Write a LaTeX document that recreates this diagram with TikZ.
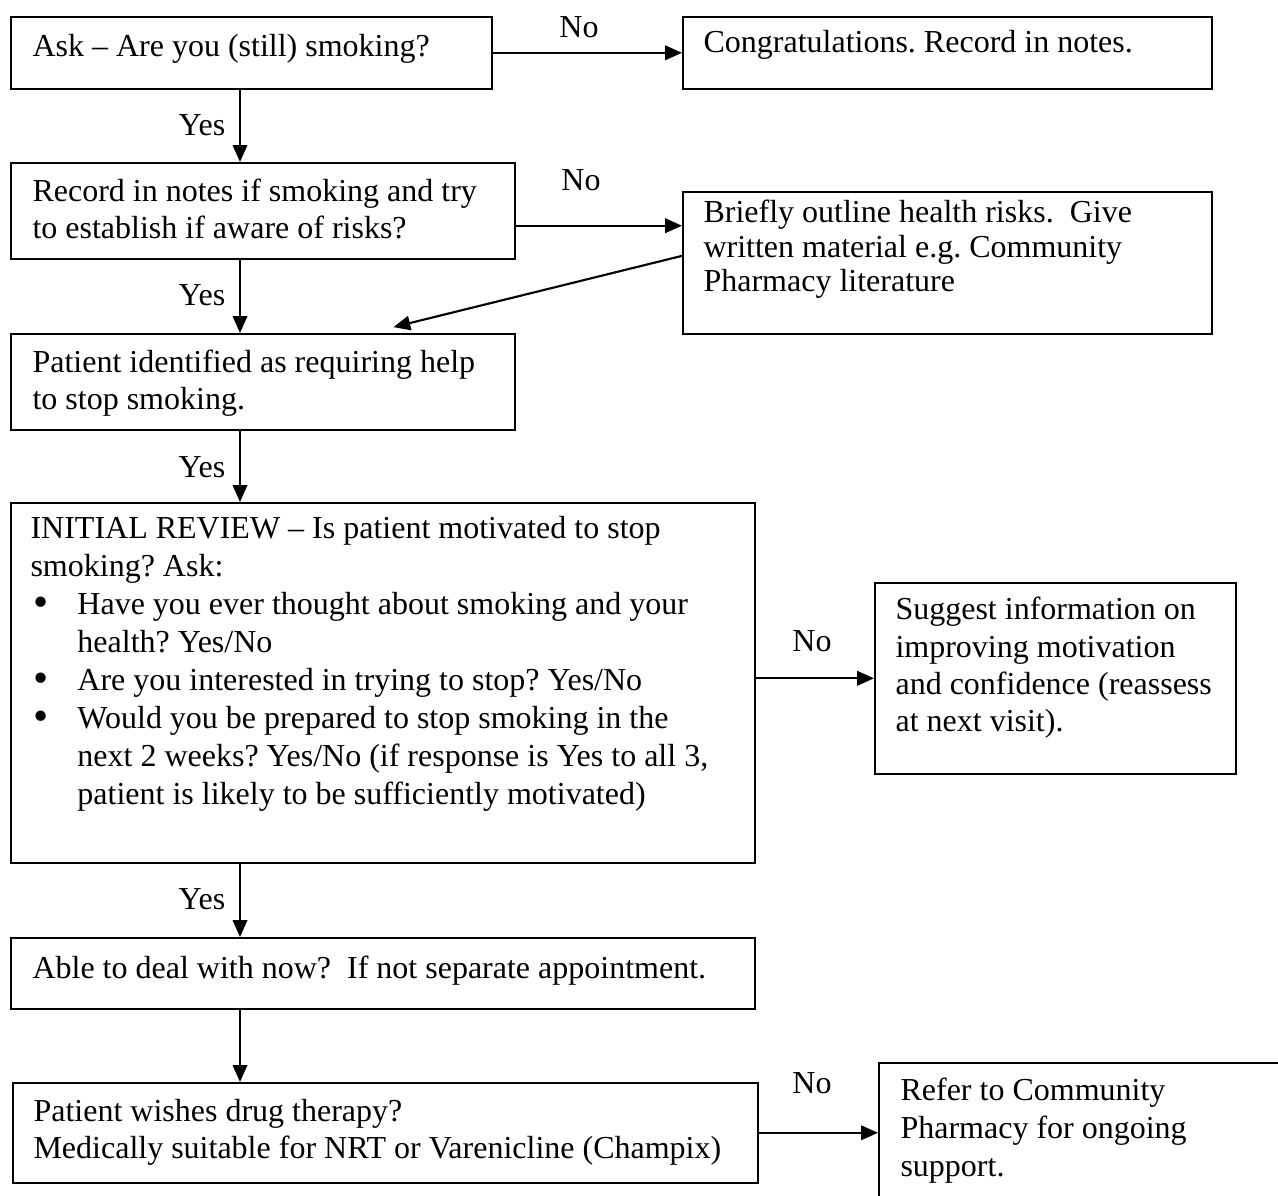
\documentclass[tikz,border=0pt]{standalone}
\usepackage{fontspec}
\setmainfont{Liberation Serif}
\usepackage{tikz}
\usetikzlibrary{arrows.meta}
\frenchspacing
\newcommand{\unitpx}{0.375pt}
\newcommand{\bitem}{\hspace*{1.2pt}\makebox[16.4pt][l]{\raisebox{-0.4pt}{\scalebox{1.35}{\textbullet}}}}
\newcommand{\bcont}{\hspace*{17.6pt}}
\tikzstyle{box}=[draw, rectangle, line width=0.6pt, inner sep=0pt, anchor=north west]
\tikzstyle{note}=[draw=none, inner sep=0pt, align=left, anchor=base west, font=\fontsize{12}{13.875}\selectfont]
\tikzstyle{answer}=[draw=none, inner sep=0pt, anchor=base, font=\fontsize{12}{13.875}\selectfont]
\tikzstyle{edge}=[draw, line width=0.8pt, -{Triangle[length=6.3pt,width=5.4pt]}]

\begin{document}
\begin{tikzpicture}[x=\unitpx, y=-\unitpx]
	\useasboundingbox (0,0) rectangle (1278,1196);
	\clip (0,0) rectangle (1278,1196);
	% First we draw the boxes
	\foreach \pos/\w/\h/\name in {
		{(10,16)/481/72/ask},
		{(682,16)/529/72/congrats},
		{(10,162)/504/96/record},
		{(682,191)/529/142/briefly},
		{(10,333)/504/96/patient},
		{(10,502)/744/360/review},
		{(874,582)/361/191/suggest},
		{(10,937)/744/71/able},
		{(12,1082)/745/100/wishes},
		{(878,1062)/450/200/refer}}
	\node[box, minimum width=\w*\unitpx, minimum height=\h*\unitpx] (\name) at \pos {};
	
	% Then the texts inside the boxes (placed at their last baseline)
	\node[note] (ask text) at (32,57) {Ask – Are you (still) smoking?};
	\node[note] (congrats text) at (703,53) {Congratulations. Record in notes.};
	\node[note] (record text) at (32,239) {Record in notes if smoking and try\\to establish if aware of risks?};
	\node[note, font=\fontsize{12}{13.1}\selectfont] (briefly text) at (703,292) {Briefly outline health risks.\ \ Give\\written material e.g.\ Community\\Pharmacy literature};
	\node[note] (patient text) at (32,410) {Patient identified as requiring help\\to stop smoking.};
	\node[note, font=\fontsize{12}{14.25}\selectfont] (review text) at (30,805) {INITIAL REVIEW – Is patient motivated to stop\\smoking? Ask:\\\bitem Have you ever thought about smoking and your\\\bcont health? Yes/No\\\bitem Are you interested in trying to stop? Yes/No\\\bitem Would you be prepared to stop smoking in the\\\bcont next 2 weeks? Yes/No (if response is Yes to all 3,\\\bcont patient is likely to be sufficiently motivated)};
	\node[note, font=\fontsize{12}{14}\selectfont] (suggest text) at (895,732) {Suggest information on\\improving motivation\\and confidence (reassess\\at next visit).};
	\node[note] (able text) at (32,978) {Able to deal with now?\ \ If not separate appointment.};
	\node[note] (wishes text) at (33,1158) {Patient wishes drug therapy?\\Medically suitable for NRT or Varenicline (Champix)};
	\node[note, font=\fontsize{12}{14.25}\selectfont] (refer text) at (900,1176) {Refer to Community\\Pharmacy for ongoing\\support.};
	
	% Connect boxes with arrows
	\coordinate (spine) at (240,0);
	\foreach \source/\dest in {ask/record, record/patient, patient/review, review/able, able/wishes}
	\path[edge] (\source.south -| spine) -- (\dest.north -| spine);
	\path[edge] (ask.east) -- (congrats.west);
	\coordinate (no2 start) at ([yshift=-5.6pt]record.east);
	\path[edge] (no2 start) -- (no2 start -| briefly.west);
	\path[edge] ([yshift=2.6pt]briefly.west) -- ([xshift=49pt,yshift=2.2pt]patient.north);
	\path[edge] (suggest.west -| review.east) -- (suggest.west);
	\path[edge] (wishes.east) -- (wishes.east -| refer.west);
	
	% Answers next to the arrows
	\foreach \pos/\name in {{(202,136)/yes1}, {(202,306)/yes2}, {(202,478)/yes3}, {(202,909)/yes4}}
	\node[answer] (\name) at \pos {Yes};
	\foreach \pos/\name in {{(579,38)/no1}, {(581,191)/no2}, {(812,652)/no3}, {(812,1093)/no4}}
	\node[answer] (\name) at \pos {No};
\end{tikzpicture}
\end{document}
